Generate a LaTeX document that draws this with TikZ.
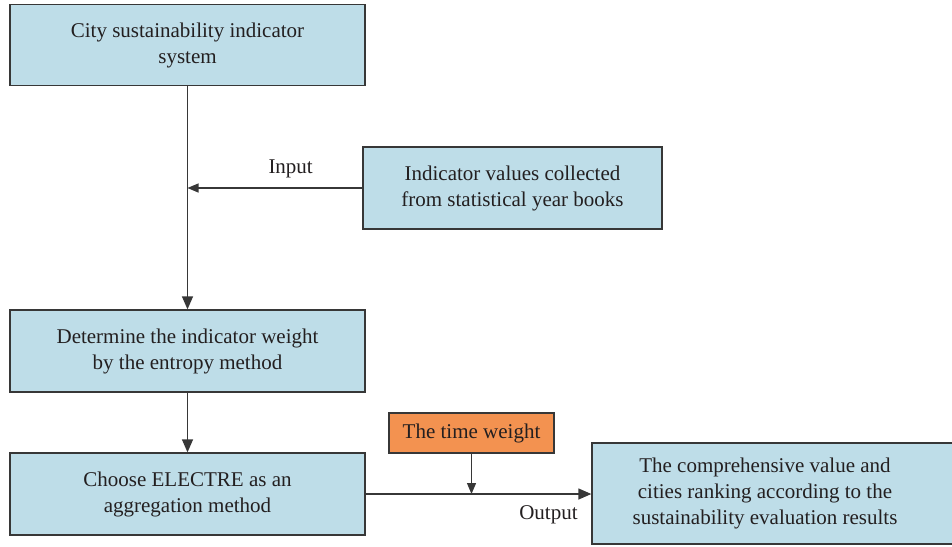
\documentclass[tikz,border=0pt]{standalone}
\usepackage{fontspec}
\setmainfont{Liberation Serif}
\usetikzlibrary{arrows.meta}
\definecolor{boxblue}{RGB}{190,221,232}
\definecolor{boxorange}{RGB}{243,146,80}
\definecolor{edge}{RGB}{55,55,55}
\definecolor{ink}{RGB}{35,31,32}
\tikzset{
  stagebox/.style={draw=edge, line width=1.3pt, fill=boxblue, align=center,
    font=\fontsize{21}{26}\selectfont, text=ink, inner sep=0pt},
  textonly/.style={align=center, font=\fontsize{21}{26}\selectfont, text=ink, inner sep=0pt},
  flow/.style={draw=edge, line width=1.3pt, -{Triangle[length=13pt,width=11pt]}},
  smallflow/.style={draw=edge, line width=1.3pt, -{Triangle[length=11pt,width=9pt]}},
  lbl/.style={font=\fontsize{21}{26}\selectfont, inner sep=0pt, text=ink}
}
\begin{document}
\begin{tikzpicture}[x=1pt,y=-1pt]
  \useasboundingbox (0,0) rectangle (952,546);
  % process boxes
  \node[stagebox, minimum width=355pt, minimum height=81pt] (city) at (187.5,45)
    {City sustainability indicator\\system};
  \node[stagebox, minimum width=299pt, minimum height=82pt] (data) at (512.5,188)
    {Indicator values collected\\from statistical year books};
  \node[stagebox, minimum width=355pt, minimum height=82pt] (entropy) at (187.5,351)
    {Determine the indicator weight\\by the entropy method};
  \node[stagebox, minimum width=355pt, minimum height=82pt] (electre) at (187.5,494)
    {Choose ELECTRE as an\\aggregation method};
  \node[stagebox, fill=boxorange, minimum width=165pt, minimum height=40pt] (time) at (471.5,433)
    {The time weight};
  % result box runs past the right edge of the page
  \node[stagebox, minimum width=420pt, minimum height=101pt] (result) at (802,493.5) {};
  \node[textonly] (resulttext) at (765,493)
    {The comprehensive value and\\cities ranking according to the\\sustainability evaluation results};
  % connectors
  \coordinate (join) at (city.south |- data.west);
  \draw[flow] (city.south) -- (entropy.north);
  \draw[smallflow] (data.west) -- node[lbl, pos=0.41, above=9pt] {Input} (join);
  \draw[flow] (entropy.south) -- (electre.north);
  \coordinate (merge) at (time.south |- electre.east);
  \draw[flow] (electre.east) -- node[lbl, pos=0.81, below=11pt] {Output} (electre.east -| result.west);
  \draw[smallflow] (time.south) -- (merge);
\end{tikzpicture}
\end{document}
